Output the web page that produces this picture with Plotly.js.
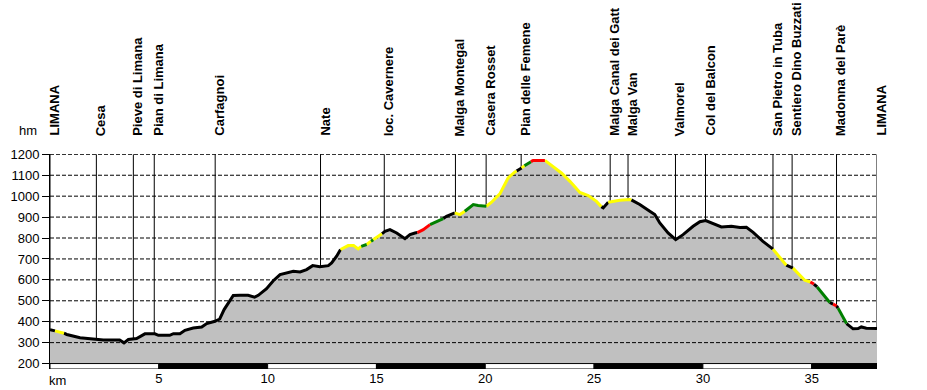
<!DOCTYPE html>
<html>
<head>
<meta charset="utf-8">
<script src="https://cdn.plot.ly/plotly-3.0.1.min.js"></script>
<style>html,body{margin:0;padding:0;background:#fff;}#chart{width:927px;height:390px;}</style>
</head>
<body>
<div id="chart"></div>
<script>
// Profile distance (km) and elevation (m)
const km = [0.00,0.23,0.64,0.77,1.38,1.84,2.14,2.45,3.20,3.40,3.60,3.98,4.36,4.82,4.98,5.50,5.67,5.97,6.20,6.58,6.97,7.20,7.58,7.80,8.00,8.20,8.42,8.73,9.10,9.40,9.57,9.95,10.26,10.57,10.87,11.18,11.49,11.79,12.07,12.40,12.79,12.94,13.17,13.35,13.70,13.95,14.16,14.30,14.55,14.75,14.85,15.16,15.25,15.39,15.62,15.93,16.31,16.54,16.77,16.88,17.15,17.46,17.91,18.07,18.22,18.60,18.83,19.06,19.45,19.67,19.98,20.05,20.29,20.67,21.05,21.36,21.44,21.67,21.80,21.97,22.10,22.20,22.74,23.12,23.50,23.89,24.35,24.73,25.11,25.33,25.42,25.65,26.18,26.64,26.71,27.10,27.56,27.79,28.02,28.40,28.75,29.09,29.55,29.86,30.13,30.47,30.85,31.31,31.70,32.00,32.31,32.76,33.22,33.60,33.83,34.14,34.45,34.68,34.94,35.10,35.25,35.75,35.83,35.98,36.14,36.21,36.60,36.90,37.13,37.28,37.51,38.00];
const elev = [362,356,345,339,323,318,318,313,313,299,315,320,342,342,335,335,343,343,359,370,375,391,402,413,458,490,525,526,526,517,526,558,596,625,633,641,638,649,668,663,668,681,713,745,764,764,748,760,769,785,792,813,820,832,840,824,797,816,824,826,840,864,885,893,904,920,912,928,960,955,952,952,971,1011,1087,1116,1120,1135,1145,1155,1165,1171,1171,1143,1111,1071,1018,1003,975,950,944,971,980,984,982,960,928,912,872,824,792,816,856,878,883,869,853,856,850,851,827,784,747,697,670,656,625,598,590,580,566,498,492,484,476,465,391,366,367,375,369,367];
// Gradient class of the stretch that starts at each point: k=black, y=yellow, g=green, r=red
const grade = ['k','y','k','k','k','k','k','k','k','k','k','k','k','k','k','k','k','k','k','k','k','k','k','k','k','k','k','k','k','k','k','k','k','k','k','k','k','k','k','k','k','k','k','y','y','y','y','g','y','g','y','y','k','k','k','k','k','k','k','r','r','g','g','k','k','y','y','g','g','g','g','y','y','y','y','y','k','y','g','g','r','r','y','y','y','y','y','y','y','k','k','y','y','y','k','k','k','k','k','k','k','k','k','k','k','k','k','k','k','k','k','k','y','y','k','y','y','y','r','k','g','g','k','r','k','g','k','k','k','k','k','k'];
const gradeColors = {k:'#000000', y:'#ffff00', g:'#008000', r:'#ff0000'};

// Waypoints
const wpNames = ['LIMANA','Cesa','Pieve di Limana','Pian di Limana','Carfagnoi','Nate','loc. Cavernere','Malga Montegal','Casera Rosset','Pian delle Femene','Malga Canal dei Gatt','Malga Van','Valmorel','Col del Balcon','San Pietro in Tuba','Sentiero Dino Buzzati','Madonna del Parè','LIMANA'];
const wpKm = [0,2.13,3.83,4.79,7.59,12.43,15.36,18.63,20.04,21.65,25.74,26.56,28.74,30.12,33.22,34.10,36.14,38.0];
const wpElev = [362,318,318,342,402,663,830,920,952,1135,975,984,792,883,747,656,476,367];

// Axes
const yTicks = [200,300,400,500,600,700,800,900,1000,1100,1200];
const xTicks = [5,10,15,20,25,30,35];
const scaleBreaks = [0,5,10,15,20,25,30,35,38];

const KMAX = 38, YMIN = 174, YTOP = 1200;

const traces = [];
// filled profile
traces.push({x:km, y:elev, type:'scatter', mode:'lines', fill:'tozeroy', fillcolor:'#c0c0c0', line:{width:0, color:'#c0c0c0'}, hoverinfo:'skip'});
// dashed grid over the fill
yTicks.filter(v => v > 200).forEach(v => {
  traces.push({x:[0,KMAX], y:[v,v], type:'scatter', mode:'lines', line:{color:'#000', width:1, dash:'4px,2px'}, hoverinfo:'skip'});
});
// waypoint lines
wpKm.forEach((k,i) => {
  traces.push({x:[k,k], y:[YTOP, wpElev[i]], type:'scatter', mode:'lines', line:{color:'#000', width:1}, hoverinfo:'skip'});
});
// coloured profile line
Object.keys(gradeColors).forEach(c => {
  const xs = [], ys = [];
  for (let i = 0; i < km.length - 1; i++) {
    if (grade[i] === c) {
      if (i === 0 || grade[i-1] !== c) { xs.push(km[i]); ys.push(elev[i]); }
      xs.push(km[i+1]); ys.push(elev[i+1]);
    } else if (i > 0 && grade[i-1] === c) {
      xs.push(null); ys.push(null);
    }
  }
  traces.push({x:xs, y:ys, type:'scatter', mode:'lines', connectgaps:false, line:{color:gradeColors[c], width:3, shape:'linear'}, hoverinfo:'skip'});
});

// distance scale bar
const shapes = [];
for (let i = 0; i < scaleBreaks.length - 1; i++) {
  shapes.push({type:'rect', xref:'x', yref:'y', x0:scaleBreaks[i], x1:scaleBreaks[i+1], y0:YMIN, y1:200,
    fillcolor: i % 2 === 0 ? '#ffffff' : '#000000', line:{color:'#000', width:1}, layer:'above'});
}

const annotations = wpNames.map((n,i) => ({
  x: wpKm[i], xref:'x', y:1, yref:'paper', yanchor:'bottom', xanchor:'center', yshift:16, xshift:4,
  text:n, showarrow:false, textangle:-90,
  font:{family:'"Liberation Sans", Arial, sans-serif', size:13, color:'#000', weight:'bold'}
}));
annotations.push({x:0, xref:'paper', xanchor:'left', xshift:-33, y:1, yref:'paper', yanchor:'bottom', yshift:14,
  text:'hm', showarrow:false, font:{family:'"Liberation Sans", Arial, sans-serif', size:13, color:'#000'}});
annotations.push({x:0, xref:'x', xanchor:'left', xshift:-3, y:0, yref:'paper', yanchor:'top', yshift:-2,
  text:'km', showarrow:false, font:{family:'"Liberation Sans", Arial, sans-serif', size:13, color:'#000'}});

const layout = {
  width:927, height:390,
  margin:{l:50, r:50, t:154, b:21, pad:0},
  paper_bgcolor:'#fff', plot_bgcolor:'#fff',
  showlegend:false,
  font:{family:'"Liberation Sans", Arial, sans-serif', size:13, color:'#000'},
  xaxis:{range:[0,KMAX], tickvals:xTicks, ticktext:xTicks.map(String), showgrid:false, zeroline:false, showline:false, ticks:'', tickfont:{size:13}, fixedrange:true},
  yaxis:{range:[YMIN, YTOP+1.5], tickvals:yTicks, showgrid:false, zeroline:false, showline:true, linecolor:'#000', linewidth:1, ticks:'outside', ticklen:7, tickcolor:'#000', tickfont:{size:13}, fixedrange:true},
  shapes:shapes,
  annotations:annotations
};

Plotly.newPlot('chart', traces, layout, {displayModeBar:false, staticPlot:true});
</script>
</body>
</html>
